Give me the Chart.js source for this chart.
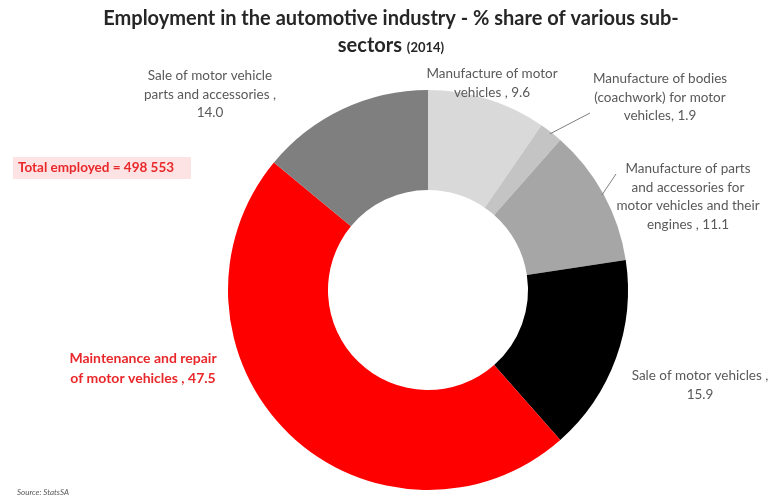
<!DOCTYPE html>
<html>
<head>
<meta charset="utf-8">
<script src="https://cdn.jsdelivr.net/npm/chart.js@4"></script>
<style>
  html, body { margin: 0; padding: 0; background: #fff; }
  #wrap { width: 782px; height: 501px; position: relative; }
</style>
</head>
<body>
<div id="wrap"><canvas id="chart"></canvas></div>
<script>
const categories = [
    'Manufacture of motor vehicles',
    'Manufacture of bodies (coachwork) for motor vehicles',
    'Manufacture of parts and accessories for motor vehicles and their engines',
    'Sale of motor vehicles',
    'Maintenance and repair of motor vehicles',
    'Sale of motor vehicle parts and accessories'
];
const shares = [9.6, 1.9, 11.1, 15.9, 47.5, 14.0];
const sliceColors = ['#d9d9d9', '#c4c4c4', '#a6a6a6', '#000000', '#ff0000', '#7f7f7f'];

// label text as it is wrapped in the picture
const labelLines = [
    ['Manufacture of motor', 'vehicles , 9.6'],
    ['Manufacture of bodies', '(coachwork) for motor', 'vehicles, 1.9'],
    ['Manufacture of parts', 'and accessories for', 'motor vehicles and their', 'engines , 11.1'],
    ['Sale of motor vehicles ,', '15.9'],
    ['Maintenance and repair', 'of motor vehicles , 47.5'],
    ['Sale of motor vehicle', 'parts and accessories ,', '14.0']
];
const totalEmployed = '498 553';

// label placement (center of first line) and leader line end points
const labelAnchor = [[492, 74], [660, 79], [688, 169], [700, 376], [143, 358], [210, 76]];
const leaderEnd = [null, [590, 113], [616, 174], null, null, null];

const labelPlugin = {
    id: 'labelPlugin',
    afterDraw(chart) {
        const ctx = chart.ctx;
        const meta = chart.getDatasetMeta(0);
        ctx.save();

        // title
        ctx.fillStyle = '#262626';
        ctx.textAlign = 'center';
        ctx.textBaseline = 'middle';
        ctx.font = 'bold 20px Lato, "Open Sans", sans-serif';
        ctx.fillText('Employment in the automotive industry - % share of various sub-', 391, 19);
        const w1 = ctx.measureText('sectors ').width;
        ctx.font = 'bold 13px Lato, "Open Sans", sans-serif';
        const w2 = ctx.measureText('(2014)').width;
        const sx = 391 - (w1 + w2) / 2;
        ctx.textAlign = 'left';
        ctx.font = 'bold 20px Lato, "Open Sans", sans-serif';
        ctx.fillText('sectors ', sx, 46);
        ctx.font = 'bold 13px Lato, "Open Sans", sans-serif';
        ctx.fillText('(2014)', sx + w1, 48);

        // leader lines from arc edges
        ctx.strokeStyle = '#7f7f7f';
        ctx.lineWidth = 1;
        meta.data.forEach((arc, i) => {
            if (!leaderEnd[i]) return;
            const p = arc.getProps(['x', 'y', 'startAngle', 'endAngle', 'outerRadius'], true);
            const a = (p.startAngle + p.endAngle) / 2;
            ctx.beginPath();
            ctx.moveTo(p.x + Math.cos(a) * (p.outerRadius - 2), p.y + Math.sin(a) * (p.outerRadius - 2));
            ctx.lineTo(leaderEnd[i][0], leaderEnd[i][1]);
            ctx.stroke();
        });

        // slice labels
        ctx.textAlign = 'center';
        labelLines.forEach((lines, i) => {
            const red = i === 4;
            ctx.fillStyle = red ? '#e8282b' : '#595959';
            ctx.font = red ? 'bold 14px Lato, "Open Sans", sans-serif' : '13.5px Lato, "Open Sans", sans-serif';
            lines.forEach((t, k) => {
                ctx.fillText(t, labelAnchor[i][0], labelAnchor[i][1] + k * (red ? 20 : 18.5));
            });
        });

        // total employed box
        ctx.fillStyle = '#fde3e3';
        ctx.fillRect(13, 157, 178, 22);
        ctx.fillStyle = '#e8282b';
        ctx.font = 'bold 13.5px Lato, "Open Sans", sans-serif';
        ctx.textAlign = 'left';
        ctx.fillText('Total employed = ' + totalEmployed, 18, 168);

        // source
        ctx.fillStyle = '#595959';
        ctx.font = 'italic 8px Lato, "Open Sans", sans-serif';
        ctx.fillText('Source: StatsSA', 17, 492);
        ctx.restore();
    }
};

new Chart(document.getElementById('chart'), {
    type: 'doughnut',
    data: {
        labels: categories,
        datasets: [{
            data: shares,
            backgroundColor: sliceColors,
            borderWidth: 0
        }]
    },
    options: {
        responsive: true,
        maintainAspectRatio: false,
        animation: false,
        cutout: '50%',
        layout: { padding: { top: 90, bottom: 11, left: 228, right: 154 } },
        plugins: {
            legend: { display: false },
            tooltip: { enabled: false }
        }
    },
    plugins: [labelPlugin]
});
</script>
</body>
</html>
